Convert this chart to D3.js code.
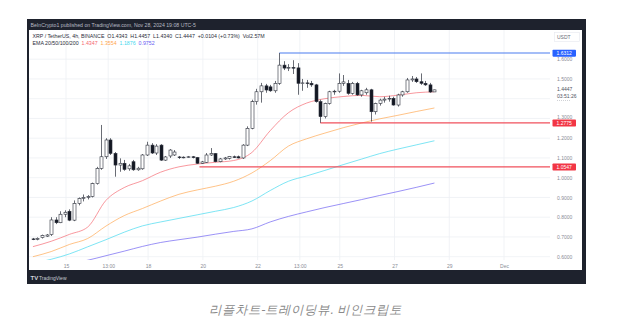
<!DOCTYPE html>
<html><head><meta charset="utf-8">
<script src="https://cdn.jsdelivr.net/npm/d3@7"></script>
<style>
html,body{margin:0;padding:0;background:#fff;}
svg{display:block;}
text{font-family:"Liberation Sans",Arial,sans-serif;}
</style></head><body>
<svg id="c" width="642" height="335"></svg>
<script>
// ---------- DATA ----------
const firstBar = "2024-11-13T19:00:00Z";   // display time of bar 0, 4h bars
const barHours = 4;
const opens  = [0.690,0.688,0.697,0.704,0.712,0.786,0.772,0.815,0.830,0.785,0.870,0.895,0.900,0.905,0.970,1.047,1.106,1.191,1.123,1.064,1.073,1.045,1.081,1.040,1.045,1.115,1.165,1.125,1.165,1.089,1.110,1.115,1.105,1.103,1.104,1.106,1.102,1.073,1.078,1.115,1.122,1.081,1.095,1.098,1.106,1.106,1.100,1.165,1.250,1.385,1.435,1.465,1.460,1.440,1.478,1.570,1.555,1.558,1.556,1.478,1.480,1.478,1.470,1.385,1.309,1.376,1.435,1.438,1.478,1.478,1.427,1.478,1.419,1.430,1.445,1.334,1.376,1.393,1.398,1.402,1.368,1.419,1.435,1.495,1.500,1.486,1.478,1.470,1.4343];
const highs  = [0.695,0.698,0.712,0.715,0.800,0.800,0.830,0.835,0.840,0.885,0.900,0.915,0.912,0.975,1.055,1.267,1.200,1.200,1.130,1.098,1.090,1.070,1.090,1.055,1.120,1.182,1.175,1.170,1.170,1.110,1.145,1.140,1.110,1.108,1.110,1.110,1.105,1.085,1.125,1.150,1.125,1.100,1.105,1.110,1.112,1.112,1.170,1.260,1.395,1.450,1.480,1.475,1.470,1.490,1.631,1.590,1.575,1.595,1.580,1.500,1.495,1.490,1.475,1.395,1.380,1.440,1.445,1.528,1.520,1.495,1.485,1.485,1.445,1.455,1.450,1.380,1.400,1.410,1.415,1.410,1.425,1.440,1.505,1.515,1.510,1.528,1.490,1.480,1.4457];
const lows   = [0.684,0.683,0.692,0.700,0.705,0.765,0.770,0.800,0.780,0.780,0.860,0.880,0.890,0.900,0.965,1.040,1.095,1.115,1.005,1.030,1.035,1.035,1.035,1.035,1.040,1.110,1.120,1.115,1.085,1.085,1.100,1.110,1.095,1.098,1.100,1.098,1.070,1.070,1.075,1.110,1.078,1.078,1.090,1.092,1.100,1.098,1.095,1.160,1.245,1.370,1.380,1.430,1.435,1.430,1.470,1.545,1.540,1.525,1.420,1.440,1.455,1.460,1.380,1.278,1.300,1.370,1.420,1.430,1.465,1.420,1.420,1.415,1.410,1.420,1.284,1.320,1.365,1.380,1.385,1.365,1.360,1.410,1.430,1.485,1.480,1.470,1.465,1.430,1.4340];
const closes = [0.688,0.693,0.708,0.710,0.786,0.772,0.815,0.825,0.785,0.870,0.895,0.900,0.905,0.970,1.047,1.106,1.191,1.123,1.064,1.073,1.042,1.060,1.040,1.048,1.115,1.165,1.125,1.160,1.089,1.105,1.140,1.130,1.103,1.104,1.106,1.102,1.073,1.080,1.115,1.122,1.081,1.095,1.100,1.108,1.104,1.100,1.165,1.250,1.385,1.435,1.465,1.444,1.440,1.478,1.570,1.555,1.558,1.556,1.478,1.480,1.478,1.470,1.385,1.309,1.376,1.435,1.438,1.478,1.485,1.427,1.478,1.419,1.440,1.445,1.334,1.376,1.393,1.398,1.402,1.368,1.419,1.435,1.495,1.500,1.486,1.478,1.470,1.434,1.4447];

// EMA values read at every 4th bar (bar index 0,4,...,88)
const emaBars = [0,4,8,12,16,20,24,28,32,36,40,44,48,52,56,60,64,68,72,76,80,84,88];
const ema20  = [0.651,0.678,0.713,0.750,0.885,0.950,0.985,1.028,1.055,1.069,1.078,1.087,1.128,1.238,1.329,1.378,1.400,1.411,1.417,1.410,1.418,1.430,1.435];
const ema50  = [0.600,0.626,0.662,0.692,0.755,0.808,0.844,0.882,0.916,0.938,0.957,0.982,1.024,1.086,1.160,1.197,1.226,1.253,1.277,1.298,1.316,1.335,1.353];
const ema100 = [0.566,0.587,0.614,0.650,0.686,0.724,0.756,0.776,0.794,0.812,0.830,0.849,0.882,0.935,0.982,1.009,1.037,1.066,1.094,1.122,1.145,1.166,1.187];
const ema200 = [0.520,0.545,0.565,0.582,0.605,0.628,0.652,0.672,0.686,0.699,0.714,0.728,0.741,0.776,0.804,0.827,0.849,0.869,0.889,0.910,0.930,0.951,0.973];
const emaColors = ["#f5666e","#ffa64d","#3fd8ee","#6a5cf2"];
const emaLegend = ["1.4347","1.3554","1.1876","0.9752"];

// horizontal levels
const levelValues = [1.6312, 1.2775, 1.0547];
const levelStart  = ["2024-11-22T19:00:00Z","2024-11-24T07:00:00Z","2024-11-19T21:00:00Z"];
const levelColors = ["#4a7cf0","#f0505c","#f0505c"];
const levelTagColors = ["#2962ff","#f23645","#f23645"];

// axes
const xTickDates  = ["2024-11-15T00:00:00Z","2024-11-16T13:00:00Z","2024-11-18T00:00:00Z","2024-11-20T00:00:00Z","2024-11-22T00:00:00Z","2024-11-23T13:00:00Z","2024-11-25T00:00:00Z","2024-11-27T00:00:00Z","2024-11-29T00:00:00Z","2024-12-01T00:00:00Z"];
const xTickLabels = ["15","13:00","18","20","22","13:00","25","27","29","Dec"];
const yTicks = [0.6,0.7,0.8,0.9,1.0,1.1,1.2,1.3,1.4,1.5,1.6];
const yHiddenLabel = 1.4;   // covered by the last-price label in the original

const titleText  = "BeInCrypto1 published on TradingView.com, Nov 28, 2024 19:08 UTC-5";
const legendText = "XRP / TetherUS, 4h, BINANCE  O1.4343  H1.4457  L1.4340  C1.4447  +0.0104 (+0.73%)  Vol2.57M";
const lastPrice = "1.4447", countdown = "03:51:26";
const caption = "리플차트-트레이딩뷰. 비인크립토";

// ---------- DRAW ----------
const svg = d3.select("#c");
const P = {l:29, r:550, t:30, b:260};
const barTime = i => new Date(new Date(firstBar).getTime() + i*barHours*3600e3);

const x = d3.scaleUtc().domain([new Date("2024-11-15T00:00:00Z"), new Date("2024-12-01T00:00:00Z")]).range([66,504]);
const y = d3.scaleLinear().domain([0.6,1.6]).range([256.7,59.2]);

// frame
svg.append("rect").attr("x",27).attr("y",19).attr("width",559).attr("height",265).attr("fill","#1e222d");
svg.append("rect").attr("x",29).attr("y",30).attr("width",553).attr("height",240).attr("fill","#fff");

// title
svg.append("text").attr("x",30.5).attr("y",26.8).attr("font-size",5.2).attr("fill","#b8bbc4").text(titleText);

const defs = svg.append("defs");
defs.append("clipPath").attr("id","plot").append("rect")
  .attr("x",P.l).attr("y",P.t).attr("width",P.r-P.l).attr("height",P.b-P.t);

const g = svg.append("g").attr("clip-path","url(#plot)");

// grid
g.selectAll(".vg").data(xTickDates).join("line")
  .attr("x1",d=>x(new Date(d))).attr("x2",d=>x(new Date(d)))
  .attr("y1",P.t).attr("y2",P.b).attr("stroke","#eef0f4").attr("stroke-width",0.8);
g.selectAll(".hg").data(yTicks).join("line")
  .attr("x1",P.l).attr("x2",P.r).attr("y1",d=>y(d)).attr("y2",d=>y(d))
  .attr("stroke","#eef0f4").attr("stroke-width",0.8);

// EMA lines
[ema20,ema50,ema100,ema200].forEach((arr,k)=>{
  const line = d3.line().x((d,i)=>x(barTime(emaBars[i]))).y(d=>y(d)).curve(d3.curveMonotoneX);
  g.append("path").attr("d",line(arr)).attr("fill","none")
    .attr("stroke",emaColors[k]).attr("stroke-opacity",0.75).attr("stroke-width",0.9);
});

// levels
levelValues.forEach((v,k)=>{
  g.append("line").attr("x1",x(new Date(levelStart[k]))).attr("x2",P.r)
    .attr("y1",y(v)).attr("y2",y(v)).attr("stroke",levelColors[k]).attr("stroke-width",1.1);
});

// candles
const bw = 3;
const bars = d3.range(opens.length);
g.selectAll(".wick").data(bars).join("line")
  .attr("x1",i=>Math.round(x(barTime(i)))+0.5).attr("x2",i=>Math.round(x(barTime(i)))+0.5)
  .attr("y1",i=>y(highs[i])).attr("y2",i=>y(lows[i]))
  .attr("stroke","#2a2e39").attr("stroke-width",0.7);
g.selectAll(".body").data(bars).join("rect")
  .attr("x",i=>Math.round(x(barTime(i)))+0.5-bw/2)
  .attr("y",i=>y(Math.max(opens[i],closes[i])))
  .attr("width",bw)
  .attr("height",i=>Math.max(0.7,Math.abs(y(opens[i])-y(closes[i]))))
  .attr("fill",i=>closes[i]>=opens[i]?"#fff":"#131722")
  .attr("stroke","#2a2e39").attr("stroke-width",0.6);

// legend header
svg.append("text").attr("x",32.5).attr("y",37.8).attr("font-size",5.25).attr("fill","#2a2e39")
  .attr("xml:space","preserve").text(legendText);
const l2 = svg.append("text").attr("x",32.5).attr("y",45).attr("font-size",5.25).attr("fill","#2a2e39").attr("xml:space","preserve");
l2.append("tspan").text("EMA 20/50/100/200  ");
emaLegend.forEach((t,k)=>l2.append("tspan").attr("fill",emaColors[k]).text(t+"  "));

// y axis
const ya = svg.append("g").attr("transform",`translate(${P.r},0)`)
  .call(d3.axisRight(y).tickValues(yTicks.filter(v=>v!==yHiddenLabel)).tickFormat(d3.format(".4f")).tickSize(0).tickPadding(7));
ya.select(".domain").remove();
ya.selectAll("text").attr("font-size",5).attr("fill","#8a8d96").attr("font-family","Liberation Sans, Arial")
  .attr("dy",d=>Math.abs(d-1.3)<1e-9?"0.05em":"0.32em");

// x axis
const xa = svg.append("g").attr("transform",`translate(0,${P.b})`)
  .call(d3.axisBottom(x).tickValues(xTickDates.map(d=>new Date(d))).tickFormat((d,i)=>xTickLabels[i]).tickSize(0).tickPadding(4));
xa.select(".domain").remove();
xa.selectAll("text").attr("font-size",5).attr("fill","#8a8d96").attr("font-family","Liberation Sans, Arial");

// USDT box
svg.append("rect").attr("x",554.5).attr("y",32.5).attr("width",25).attr("height",9).attr("fill","#fff").attr("stroke","#e6e8ee").attr("stroke-width",0.6);
svg.append("text").attr("x",557).attr("y",38.8).attr("font-size",5).attr("fill","#6a6d78").text("USDT");

// level tags
levelValues.forEach((v,k)=>{
  svg.append("rect").attr("x",552.5).attr("y",y(v)-3.4).attr("width",23.5).attr("height",7).attr("rx",0.8).attr("fill",levelTagColors[k]);
  svg.append("text").attr("x",564.2).attr("y",y(v)+1.8).attr("text-anchor","middle").attr("font-size",5).attr("fill","#fff").text(d3.format(".4f")(v));
});

// last price label
svg.append("rect").attr("x",553).attr("y",85).attr("width",27).attr("height",16.5).attr("fill","#fff");
svg.append("text").attr("x",557).attr("y",91).attr("font-size",5).attr("fill","#50535e").text(lastPrice);
svg.append("text").attr("x",557).attr("y",97.5).attr("font-size",5).attr("fill","#50535e").text(countdown);
svg.append("line").attr("x1",557).attr("x2",571).attr("y1",100.5).attr("y2",100.5).attr("stroke","#b0b3bb").attr("stroke-width",0.6).attr("stroke-dasharray","1,1");

// bottom logo
svg.append("text").attr("x",30.5).attr("y",280.2).attr("font-size",6).attr("font-weight","bold").attr("fill","#d1d4dc").text("TV");
svg.append("text").attr("x",39).attr("y",280).attr("font-size",5).attr("fill","#c8cbd3").text("TradingView");

// caption
svg.append("text").attr("x",305.8).attr("y",313.5).attr("text-anchor","middle")
  .attr("font-family","'Noto Sans CJK KR', sans-serif").attr("font-style","italic")
  .attr("font-size",12.5).attr("fill","#8a8a8a").text(caption);
</script>
</body></html>
